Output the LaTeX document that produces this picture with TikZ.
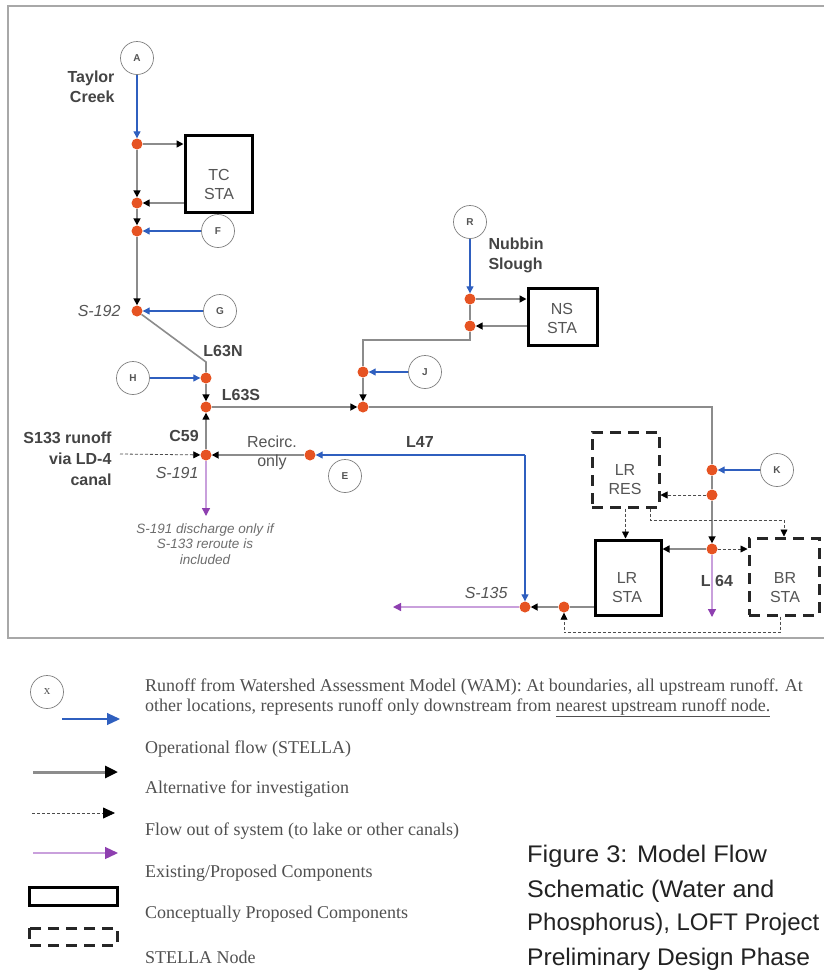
\documentclass[tikz,border=0pt]{standalone}
\usepackage{fontspec}
\setmainfont{Liberation Serif}
\setsansfont{Liberation Sans}
\usetikzlibrary{arrows.meta}
\definecolor{nodeor}{HTML}{E65322}
\definecolor{flowblue}{HTML}{2F5FBF}
\definecolor{linegray}{HTML}{8C8C8C}
\definecolor{txtgray}{HTML}{555555}
\definecolor{lbl}{HTML}{444444}
\definecolor{purpline}{HTML}{C9A0DC}
\definecolor{purptip}{HTML}{8E3FB0}
\definecolor{framegray}{HTML}{A8A8A8}
\definecolor{legtxt}{HTML}{505050}
\definecolor{captxt}{HTML}{222222}
\begin{document}
\begin{tikzpicture}[x=1pt,y=-1pt,
  stella/.style={circle, fill=nodeor, inner sep=0pt, minimum size=11pt},
  wam/.style={circle, draw=gray, line width=0.7pt, fill=white, inner sep=0pt, minimum size=33pt, font=\sffamily\bfseries\fontsize{10}{12}\selectfont, text=txtgray},
  op/.style={draw=linegray, line width=1.6pt, -{Triangle[length=7pt,width=7pt,color=black]}},
  opn/.style={draw=linegray, line width=1.6pt},
  run/.style={draw=flowblue, line width=1.2pt, -{Triangle[length=7pt,width=7pt]}},
  alt/.style={draw=black!70, line width=0.8pt, dash pattern=on 3pt off 2pt, -{Triangle[length=7pt,width=7pt,color=black]}},
  outf/.style={draw=purpline, line width=1.3pt, -{Triangle[length=8pt,width=8pt,color=purptip]}},
  bigtip/.style={-{Triangle[length=13pt,width=12pt]}},
  exist/.style={draw=black, line width=3pt, fill=white, inner sep=0pt},
  concept/.style={draw=black!85, line width=3pt, dash pattern=on 11pt off 7pt, inner sep=0pt},
  boxtxt/.style={font=\sffamily\fontsize{16}{19}\selectfont, text=txtgray, align=center},
  bl/.style={font=\sffamily\bfseries\fontsize{16}{20}\selectfont, text=lbl},
  itl/.style={font=\sffamily\itshape\fontsize{16}{18}\selectfont, text=txtgray},
  leg/.style={font=\rmfamily\fontsize{18}{20}\selectfont, text=legtxt, anchor=base west, inner sep=0pt},
  captext/.style={font=\sffamily\fontsize{24}{30}\selectfont, text=captxt, anchor=base west, inner sep=0pt}
]
\useasboundingbox (0,0) rectangle (824,970);
\fill[white] (0,0) rectangle (824,970);
% frame
\draw[framegray, line width=1.5pt] (826,6) -- (8,6) -- (8,638) -- (826,638);

% boxes
\node[exist, minimum width=67pt, minimum height=77pt] (tc) at (218.5,173.5) {};
\node[boxtxt] (tct) at (219,184) {TC\\STA};
\node[exist, minimum width=69pt, minimum height=57pt] (ns) at (562.5,316.5) {};
\node[boxtxt] (nst) at (562,318) {NS\\STA};
\node[concept, minimum width=67pt, minimum height=75pt] (lrres) at (625.5,469.5) {};
\node[boxtxt] (lrrest) at (625,480) {LR\\RES};
\node[exist, minimum width=66pt, minimum height=75pt] (lrsta) at (628,577.5) {};
\node[boxtxt] (lrstat) at (627,588) {LR\\STA};
\node[concept, minimum width=70pt, minimum height=77pt] (brsta) at (784,576.5) {};
\node[boxtxt] (brstat) at (785,588) {BR\\STA};

% STELLA nodes
\node[stella] (n1) at (137,144) {};
\node[stella] (n2) at (137,203) {};
\node[stella] (n3) at (137,231) {};
\node[stella] (n4) at (137,311) {};
\node[stella] (n5) at (206,378) {};
\node[stella] (n6) at (206,407) {};
\node[stella] (n11) at (206,455) {};
\node[stella] (n7) at (363,407) {};
\node[stella] (n8) at (363,372) {};
\node[stella] (n9) at (470,299) {};
\node[stella] (n10) at (470,326) {};
\node[stella] (n12) at (310,455) {};
\node[stella] (n13) at (712,470) {};
\node[stella] (n14) at (712,495) {};
\node[stella] (n15) at (712,549) {};
\node[stella] (n16) at (564,607) {};
\node[stella] (n17) at (525,607) {};

% WAM circles
\node[wam] (A) at (137,58) {A};
\node[wam] (F) at (218,231) {F};
\node[wam] (G) at (220,311) {G};
\node[wam] (H) at (133,378) {H};
\node[wam] (R) at (470,222) {R};
\node[wam] (J) at (425,372) {J};
\node[wam] (E) at (345,476) {E};
\node[wam] (K) at (777,470) {K};

% coordinates
\coordinate (c1) at (206,362);
\coordinate (c2) at (470,340);
\coordinate (c3) at (363,340);
\coordinate (c4) at (712,407);
\coordinate (l47) at (525,455);
\coordinate (s133) at (120,454);
\coordinate (o191) at (206,516);
\coordinate (o64) at (712,617);
\coordinate (o135) at (393,607);

% connectors
\draw[run] (A) -- (n1);
\draw[op] (n1) -- (n1 -| tc.west);
\draw[op] (n1) -- (n2);
\draw[op] (tc.west |- n2) -- (n2);
\draw[op] (n2) -- (n3);
\draw[run] (F) -- (n3);
\draw[op] (n3) -- (n4);
\draw[run] (G) -- (n4);
\draw[opn] (n4) -- (c1) -- (n5);
\draw[run] (H) -- (n5);
\draw[op] (n5) -- (n6);
\draw[op] (n11) -- (n6);
\draw[op] (n6) -- (n7);
\draw[op] (n12) -- (n11);
\draw[alt] (s133) -- (n11);
\draw[outf] (n11) -- (o191);
\draw[run] (l47) -- (n12);
\draw[run] (l47) -- (n17);
\draw[run] (R) -- (n9);
\draw[op] (n9) -- (n9 -| ns.west);
\draw[opn] (n9) -- (n10);
\draw[op] (ns.west |- n10) -- (n10);
\draw[opn] (n10) -- (c2) -- (c3) -- (n8);
\draw[run] (J) -- (n8);
\draw[op] (n8) -- (n7);
\draw[opn] (n7) -- (c4) -- (n13);
\draw[run] (K) -- (n13);
\draw[opn] (n13) -- (n14);
\draw[alt] (n14) -- (n14 -| lrres.east);
\draw[op] (n14) -- (n15);
\draw[op] (n15) -- (n15 -| lrsta.east);
\draw[alt] (n15) -- (n15 -| brsta.west);
\draw[outf] (n15) -- (o64);
\draw[alt] (lrres.south) -- (lrres.south |- lrsta.north);
\draw[alt] ([xshift=-10pt]lrres.south east) -- ++(0,12) -| (brsta.north);
\draw[opn] (lrsta.west |- n16) -- (n16);
\draw[op] (n16) -- (n17);
\draw[outf] (n17) -- (o135);
\draw[alt] ([xshift=-4pt]brsta.south) -- ++(0,16) -| (n16);

% labels
\node[bl, anchor=east, align=right] (taylor) at (118,87) {Taylor\\Creek};
\node[itl, anchor=east] (s192) at (124,311) {S-192};
\node[bl] (l63n) at (223,351) {L63N};
\node[bl] (l63s) at (241,395) {L63S};
\node[bl] (c59) at (184,436) {C59};
\node[bl, anchor=east, align=right, font=\sffamily\bfseries\fontsize{16}{21}\selectfont] (s133t) at (115,459) {S133 runoff\\via LD-4\\canal};
\node[itl, anchor=east] (s191) at (202,473) {S-191};
\node[font=\sffamily\itshape\fontsize{13.5}{15.5}\selectfont, text=txtgray!85, align=center] (note) at (205,544) {S-191 discharge only if\\S-133 reroute is\\included};
\node[font=\sffamily\fontsize{16}{19}\selectfont, text=txtgray, align=center] (recirc) at (272,453) {Recirc.\\only};
\node[bl] (l47t) at (420,442) {L47};
\node[bl, anchor=west, align=left] (nubbin) at (485,255) {Nubbin\\Slough};
\node[itl, anchor=east] (s135) at (511,593) {S-135};
\node[bl] (l64) at (717,581) {L 64};

% legend
\node[wam, font=\rmfamily\fontsize{13}{14}\selectfont] (X) at (47,692) {x};
\coordinate (lb1) at (62,719); \coordinate (lb2) at (120,719);
\draw[run, bigtip] (lb1) -- (lb2);
\coordinate (lg1) at (33,772); \coordinate (lg2) at (118,772);
\draw[op, line width=3pt, -{Triangle[length=13pt,width=12pt,color=black]}] (lg1) -- (lg2);
\coordinate (ld1) at (32,813); \coordinate (ld2) at (115,813);
\draw[alt, -{Triangle[length=12pt,width=11pt,color=black]}] (ld1) -- (ld2);
\coordinate (lp1) at (33,853); \coordinate (lp2) at (118,853);
\draw[outf, -{Triangle[length=13pt,width=12pt,color=purptip]}] (lp1) -- (lp2);
\draw[exist] (29,887) rectangle (117,905);
\draw[concept] (29,928) rectangle (117,945);
\node[stella, minimum size=12pt] (lstella) at (70,976) {};

\node[leg] (t1) at (145,691) {Runoff from Watershed Assessment Model (WAM): At boundaries, all upstream runoff. At};
\node[leg] (t2) at (145,711) {other locations, represents runoff only downstream from \underline{nearest upstream runoff node.}};
\node[leg] (t3) at (145,753) {Operational flow (STELLA)};
\node[leg] (t4) at (145,793) {Alternative for investigation};
\node[leg] (t5) at (145,835) {Flow out of system (to lake or other canals)};
\node[leg] (t6) at (145,877) {Existing/Proposed Components};
\node[leg] (t7) at (145,918) {Conceptually Proposed Components};
\node[leg] (t8) at (145,963) {STELLA Node};

% caption
\node[captext] (cp1) at (527,862) {\scalebox{1.06}[1]{Figure 3: Model Flow}};
\node[captext] (cp2) at (527,897) {\scalebox{1.045}[1]{Schematic (Water and}};
\node[captext] (cp3) at (527,930) {Phosphorus), LOFT Project};
\node[captext] (cp4) at (527,965) {\scalebox{1.025}[1]{Preliminary Design Phase}};
\end{tikzpicture}
\end{document}
